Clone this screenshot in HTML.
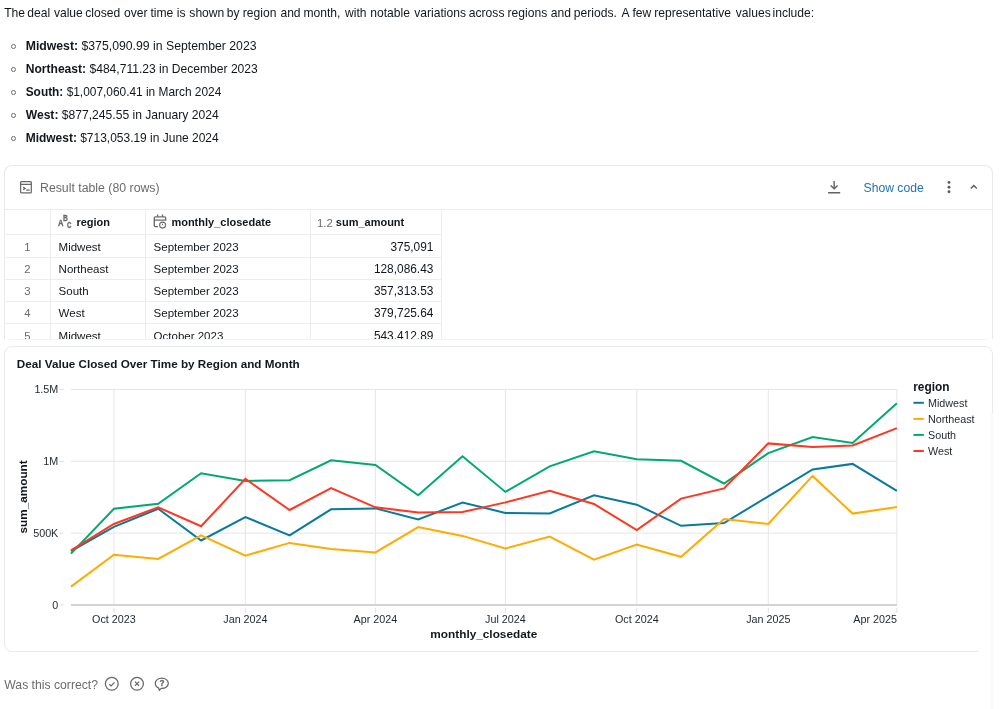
<!DOCTYPE html>
<html><head><meta charset="utf-8">
<style>
*{box-sizing:border-box;margin:0;padding:0}
html,body{width:1000px;height:709px;overflow:hidden;background:#fff}
body{font-family:"Liberation Sans",Arial,sans-serif;color:#11171c;position:relative}
.abs{position:absolute;white-space:nowrap}
.p1{left:4.3px;top:3px;font-size:12.1px;line-height:20px}
.li{position:absolute;left:25.7px;font-size:12.2px;line-height:20px;white-space:nowrap}
.bul{position:absolute;left:11px;width:4.7px;height:4.7px;border:1px solid #6a6a6a;border-radius:50%}
.tcard{position:absolute;left:4px;top:165px;width:989px;height:174px;border:1px solid #e6e9ee;border-bottom:none;border-radius:8px 8px 0 0;overflow:hidden;background:#fff}
.ccard{position:absolute;left:4px;top:346px;width:989px;height:306px;border:1px solid #e6e9ee;border-radius:8px;background:#fff}
.hl{position:absolute;height:1px;background:#ededee}
.vl{position:absolute;width:1px;background:#ededee}
.tt{position:absolute;font-size:11.5px;line-height:14px;white-space:nowrap;color:#11171c}
.th{position:absolute;font-size:11px;line-height:13px;font-weight:700;white-space:nowrap;color:#11171c}
.idx{position:absolute;font-size:11.3px;line-height:14px;color:#6b6b6b;width:46px;text-align:center}
.num{position:absolute;font-size:11.9px;line-height:14px;white-space:nowrap;text-align:right;width:120px}
</style></head><body><div style="position:absolute;left:0;top:0;width:1000px;height:709px;will-change:transform">
<div class="abs p1" style="left:0;width:1000px;height:20px"><span style="position:absolute;left:4.16px;top:0">The </span><span style="position:absolute;left:27.22px;top:0">deal </span><span style="position:absolute;left:53.90px;top:0">value </span><span style="position:absolute;left:85.32px;top:0">closed </span><span style="position:absolute;left:123.92px;top:0">over </span><span style="position:absolute;left:150.48px;top:0">time </span><span style="position:absolute;left:176.87px;top:0">is </span><span style="position:absolute;left:189.34px;top:0">shown </span><span style="position:absolute;left:226.77px;top:0">by </span><span style="position:absolute;left:242.77px;top:0">region </span><span style="position:absolute;left:280.42px;top:0">and </span><span style="position:absolute;left:303.47px;top:0">month, </span><span style="position:absolute;left:345.10px;top:0">with </span><span style="position:absolute;left:370.27px;top:0">notable </span><span style="position:absolute;left:414.30px;top:0">variations </span><span style="position:absolute;left:468.82px;top:0">across </span><span style="position:absolute;left:507.57px;top:0">regions </span><span style="position:absolute;left:550.72px;top:0">and </span><span style="position:absolute;left:573.87px;top:0">periods. </span><span style="position:absolute;left:621.50px;top:0">A </span><span style="position:absolute;left:632.38px;top:0">few </span><span style="position:absolute;left:654.27px;top:0">representative </span><span style="position:absolute;left:735.80px;top:0">values </span><span style="position:absolute;left:772.47px;top:0">include: </span></div>
<div class="bul" style="top:44.10px"></div>
<div class="li" style="top:36.00px;font-size:12.25px"><b>Midwest:</b> $375,090.99 in September 2023</div>
<div class="bul" style="top:67.15px"></div>
<div class="li" style="top:59.05px;font-size:12.08px"><b>Northeast:</b> $484,711.23 in December 2023</div>
<div class="bul" style="top:90.20px"></div>
<div class="li" style="top:82.10px;font-size:11.9px"><b>South:</b> $1,007,060.41 in March 2024</div>
<div class="bul" style="top:113.25px"></div>
<div class="li" style="top:105.15px;font-size:12.12px"><b>West:</b> $877,245.55 in January 2024</div>
<div class="bul" style="top:136.30px"></div>
<div class="li" style="top:128.20px;font-size:11.97px"><b>Midwest:</b> $713,053.19 in June 2024</div>
<div class="tcard">
<svg class="abs" style="left:15px;top:15px" width="13" height="13" viewBox="0 0 13 13" fill="none" stroke="#686868" stroke-width="1.25">
<rect x="0.6" y="0.6" width="10.7" height="11.2" rx="0.9"/>
<line x1="0.6" y1="3.35" x2="11.3" y2="3.35"/>
<polyline points="3.2,6.1 5.1,7.4 3.2,8.7" stroke-width="1.3"/>
<line x1="6.1" y1="9.2" x2="9.7" y2="9.2" stroke-width="1.3"/>
</svg>
<div class="abs" style="left:35px;top:15.0px;font-size:12.3px;line-height:14px;color:#6b6b6b">Result table (80 rows)</div>
<svg class="abs" style="left:822px;top:14px" width="15" height="15" viewBox="0 0 15 15" fill="none" stroke="#626262" stroke-width="1.4">
<line x1="7.15" y1="0.9" x2="7.15" y2="8.4"/>
<polyline points="3.7,5.4 7.15,8.8 10.6,5.4"/>
<line x1="1.1" y1="12.7" x2="13.2" y2="12.7"/>
</svg>
<div class="abs" style="left:858.6px;top:15.0px;font-size:12.15px;line-height:14px;color:#2272b4">Show code</div>
<svg class="abs" style="left:941px;top:14px" width="7" height="15" viewBox="0 0 7 15">
<circle cx="3.0" cy="2.4" r="1.45" fill="#5a5a5a"/><circle cx="3.0" cy="7.2" r="1.45" fill="#5a5a5a"/><circle cx="3.0" cy="11.8" r="1.45" fill="#5a5a5a"/>
</svg>
<svg class="abs" style="left:963px;top:16px" width="12" height="10" viewBox="0 0 12 10">
<polyline points="2.8,6.6 5.8,3.5 8.8,6.6" fill="none" stroke="#5a5a5a" stroke-width="1.4"/>
</svg>
<div class="hl" style="left:0;top:43px;width:988px;background:#e9ebf0"></div>
<div class="hl" style="left:0;top:68px;width:436px"></div>
<div class="hl" style="left:0;top:91px;width:436px"></div>
<div class="hl" style="left:0;top:113px;width:436px"></div>
<div class="hl" style="left:0;top:135px;width:436px"></div>
<div class="hl" style="left:0;top:157px;width:436px"></div>
<div class="vl" style="left:45.0px;top:43px;height:200px"></div>
<div class="vl" style="left:140.0px;top:43px;height:200px"></div>
<div class="vl" style="left:305.0px;top:43px;height:200px"></div>
<div class="vl" style="left:435.8px;top:43px;height:200px"></div>
<svg class="abs" style="left:52px;top:48px" width="16" height="15" viewBox="0 0 16 15" font-family='"Liberation Sans",Arial,sans-serif' font-size="8.4" font-weight="700" fill="#686868" stroke="#686868" stroke-width="0.3">
<text transform="translate(1.1 11.8) scale(0.9 1)">A</text>
<text transform="translate(6.0 7.4) scale(0.8 1)">B</text>
<text transform="translate(9.9 13.7) scale(0.74 1)">C</text>
</svg>
<div class="th" style="left:71.4px;top:49.5px">region</div>
<svg class="abs" style="left:148.0px;top:48px" width="15" height="15" viewBox="0 0 15 15" fill="none" stroke="#6b6b6b" stroke-width="1.35">
<path d="M5 12.6H2.5a1.2 1.2 0 0 1-1.2-1.2V4a1.2 1.2 0 0 1 1.2-1.2h9a1.2 1.2 0 0 1 1.2 1.2V6.1H1.3"/>
<line x1="4.6" y1="0.4" x2="4.6" y2="2.8"/>
<line x1="9.5" y1="0.4" x2="9.5" y2="2.8"/>
<circle cx="9.6" cy="11.1" r="3.0" stroke-width="1.1"/>
<polyline points="9.4,9.7 9.6,11.2" stroke-width="1"/>
</svg>
<div class="th" style="left:166.4px;top:49.5px">monthly_closedate</div>
<div class="abs" style="left:312.0px;top:49.5px;font-size:11.3px;line-height:14px;color:#6b6b6b">1.2</div>
<div class="th" style="left:330.8px;top:49.5px">sum_amount</div>
<div class="idx" style="left:-0.5px;top:73.5px">1</div><div class="tt" style="left:53.6px;top:73.5px">Midwest</div><div class="tt" style="left:148.6px;top:73.5px">September 2023</div><div class="num" style="left:308.4px;top:73.5px">375,091</div>
<div class="idx" style="left:-0.5px;top:95.8px">2</div><div class="tt" style="left:53.6px;top:95.8px">Northeast</div><div class="tt" style="left:148.6px;top:95.8px">September 2023</div><div class="num" style="left:308.4px;top:95.8px">128,086.43</div>
<div class="idx" style="left:-0.5px;top:118.0px">3</div><div class="tt" style="left:53.6px;top:118.0px">South</div><div class="tt" style="left:148.6px;top:118.0px">September 2023</div><div class="num" style="left:308.4px;top:118.0px">357,313.53</div>
<div class="idx" style="left:-0.5px;top:140.2px">4</div><div class="tt" style="left:53.6px;top:140.2px">West</div><div class="tt" style="left:148.6px;top:140.2px">September 2023</div><div class="num" style="left:308.4px;top:140.2px">379,725.64</div>
<div class="idx" style="left:-0.5px;top:162.5px">5</div><div class="tt" style="left:53.6px;top:162.5px">Midwest</div><div class="tt" style="left:148.6px;top:162.5px">October 2023</div><div class="num" style="left:308.4px;top:162.5px">543,412.89</div>
<div class="idx" style="left:-0.5px;top:184.8px">6</div><div class="tt" style="left:53.6px;top:184.8px">Northeast</div><div class="tt" style="left:148.6px;top:184.8px">October 2023</div><div class="num" style="left:308.4px;top:184.8px">350,112.08</div>
</div>
<div class="abs" style="left:9px;top:339px;width:979px;height:1px;background:#f2f3f6"></div>
<div class="ccard"></div>
<svg class="abs" style="left:0;top:0" width="1000" height="709" viewBox="0 0 1000 709" font-family='"Liberation Sans",Arial,sans-serif'>
<text x="16.8" y="368" font-size="11.7" font-weight="700" fill="#11171c">Deal Value Closed Over Time by Region and Month</text>
<line x1="113.90" y1="389.4" x2="113.90" y2="605.0" stroke="#e6e6e6" stroke-width="1"/>
<line x1="113.90" y1="608" x2="113.90" y2="613" stroke="#e0e0e0" stroke-width="1"/>
<line x1="245.35" y1="389.4" x2="245.35" y2="605.0" stroke="#e6e6e6" stroke-width="1"/>
<line x1="245.35" y1="608" x2="245.35" y2="613" stroke="#e0e0e0" stroke-width="1"/>
<line x1="375.37" y1="389.4" x2="375.37" y2="605.0" stroke="#e6e6e6" stroke-width="1"/>
<line x1="375.37" y1="608" x2="375.37" y2="613" stroke="#e0e0e0" stroke-width="1"/>
<line x1="505.40" y1="389.4" x2="505.40" y2="605.0" stroke="#e6e6e6" stroke-width="1"/>
<line x1="505.40" y1="608" x2="505.40" y2="613" stroke="#e0e0e0" stroke-width="1"/>
<line x1="636.84" y1="389.4" x2="636.84" y2="605.0" stroke="#e6e6e6" stroke-width="1"/>
<line x1="636.84" y1="608" x2="636.84" y2="613" stroke="#e0e0e0" stroke-width="1"/>
<line x1="768.29" y1="389.4" x2="768.29" y2="605.0" stroke="#e6e6e6" stroke-width="1"/>
<line x1="768.29" y1="608" x2="768.29" y2="613" stroke="#e0e0e0" stroke-width="1"/>
<line x1="896.89" y1="389.4" x2="896.89" y2="605.0" stroke="#e6e6e6" stroke-width="1"/>
<line x1="896.89" y1="608" x2="896.89" y2="613" stroke="#e0e0e0" stroke-width="1"/>
<line x1="71.04" y1="389.40" x2="897" y2="389.40" stroke="#e6e6e6" stroke-width="1"/>
<line x1="71.04" y1="461.27" x2="897" y2="461.27" stroke="#e6e6e6" stroke-width="1"/>
<line x1="71.04" y1="533.13" x2="897" y2="533.13" stroke="#e6e6e6" stroke-width="1"/>
<line x1="59.6" y1="389.4" x2="63.6" y2="389.4" stroke="#d9d9d9" stroke-width="1"/>
<text x="58.3" y="393.1" font-size="10.75" text-anchor="end" fill="#1f272d">1.5M</text>
<line x1="59.6" y1="461.3" x2="63.6" y2="461.3" stroke="#d9d9d9" stroke-width="1"/>
<text x="58.3" y="465.0" font-size="10.75" text-anchor="end" fill="#1f272d">1M</text>
<line x1="59.6" y1="533.1" x2="63.6" y2="533.1" stroke="#d9d9d9" stroke-width="1"/>
<text x="58.3" y="536.8" font-size="10.75" text-anchor="end" fill="#1f272d">500K</text>
<line x1="59.6" y1="605.0" x2="63.6" y2="605.0" stroke="#d9d9d9" stroke-width="1"/>
<text x="58.3" y="608.7" font-size="10.75" text-anchor="end" fill="#1f272d">0</text>
<line x1="71.04" y1="605" x2="897" y2="605" stroke="#d3d3d3" stroke-width="2"/>
<text x="113.9" y="622.9" font-size="10.75" text-anchor="middle" fill="#1f272d">Oct 2023</text>
<text x="245.4" y="622.9" font-size="10.75" text-anchor="middle" fill="#1f272d">Jan 2024</text>
<text x="375.4" y="622.9" font-size="10.75" text-anchor="middle" fill="#1f272d">Apr 2024</text>
<text x="505.4" y="622.9" font-size="10.75" text-anchor="middle" fill="#1f272d">Jul 2024</text>
<text x="636.8" y="622.9" font-size="10.75" text-anchor="middle" fill="#1f272d">Oct 2024</text>
<text x="768.3" y="622.9" font-size="10.75" text-anchor="middle" fill="#1f272d">Jan 2025</text>
<text x="897" y="622.9" font-size="10.75" text-anchor="end" fill="#1f272d">Apr 2025</text>
<text x="483.8" y="637.6" font-size="11.8" font-weight="700" text-anchor="middle" fill="#11171c">monthly_closedate</text>
<text transform="translate(27.2 496.9) rotate(-90)" font-size="11.75" font-weight="700" text-anchor="middle" fill="#11171c">sum_amount</text>
<polyline points="71.0,551.1 113.9,526.9 158.2,508.8 201.1,540.5 245.4,517.0 289.6,535.4 331.1,509.3 375.4,508.4 418.2,519.5 462.5,502.5 505.4,512.9 549.7,513.4 594.0,495.3 636.8,504.7 681.1,525.8 724.0,523.1 768.3,496.3 812.6,469.5 852.6,463.9 896.9,490.9" fill="none" stroke="#077a9d" stroke-width="2" stroke-linejoin="miter" stroke-linecap="butt"/>
<polyline points="71.0,586.6 113.9,554.7 158.2,559.0 201.1,535.3 245.4,555.6 289.6,542.9 331.1,548.9 375.4,552.4 418.2,527.1 462.5,535.9 505.4,548.4 549.7,536.6 594.0,559.6 636.8,544.6 681.1,556.8 724.0,519.0 768.3,523.9 812.6,475.9 852.6,513.6 896.9,507.1" fill="none" stroke="#ffab00" stroke-width="2" stroke-linejoin="miter" stroke-linecap="butt"/>
<polyline points="71.0,553.6 113.9,508.8 158.2,503.7 201.1,473.2 245.4,481.0 289.6,480.2 331.1,460.3 375.4,464.9 418.2,495.3 462.5,456.2 505.4,491.9 549.7,466.4 594.0,451.2 636.8,459.3 681.1,460.8 724.0,483.5 768.3,453.1 812.6,437.1 852.6,442.9 896.9,403.3" fill="none" stroke="#00a972" stroke-width="2" stroke-linejoin="miter" stroke-linecap="butt"/>
<polyline points="71.0,550.4 113.9,524.0 158.2,507.3 201.1,526.2 245.4,478.9 289.6,510.0 331.1,488.1 375.4,507.3 418.2,512.4 462.5,512.1 505.4,502.4 549.7,490.7 594.0,504.0 636.8,530.1 681.1,498.6 724.0,488.4 768.3,443.4 812.6,447.0 852.6,445.5 896.9,428.1" fill="none" stroke="#ff3621" stroke-width="2" stroke-linejoin="miter" stroke-linecap="butt"/>
<text x="913.2" y="390.7" font-size="11.9" font-weight="700" fill="#11171c">region</text>
<line x1="913.4" y1="402.8" x2="923.8" y2="402.8" stroke="#077a9d" stroke-width="2"/>
<text x="928.0" y="406.6" font-size="10.75" fill="#1f272d">Midwest</text>
<line x1="913.4" y1="418.9" x2="923.8" y2="418.9" stroke="#ffab00" stroke-width="2"/>
<text x="928.0" y="422.7" font-size="10.75" fill="#1f272d">Northeast</text>
<line x1="913.4" y1="434.9" x2="923.8" y2="434.9" stroke="#00a972" stroke-width="2"/>
<text x="928.0" y="438.7" font-size="10.75" fill="#1f272d">South</text>
<line x1="913.4" y1="451.0" x2="923.8" y2="451.0" stroke="#ff3621" stroke-width="2"/>
<text x="928.0" y="454.8" font-size="10.75" fill="#1f272d">West</text>
</svg>
<div class="abs" style="left:4.3px;top:677.6px;font-size:12.2px;line-height:14px;color:#6b6b6b">Was this correct?</div>
<svg class="abs" style="left:0;top:670px" width="200" height="30" viewBox="0 670 200 30" fill="none" stroke="#666" stroke-width="1.25">
<circle cx="111.8" cy="683.8" r="6.4"/>
<polyline points="109.2,684.2 111.1,685.9 114.5,682.4" stroke-width="1.2"/>
<circle cx="137" cy="683.8" r="6.4"/>
<line x1="134.9" y1="681.7" x2="139.1" y2="685.9" stroke-width="1.2"/>
<line x1="139.1" y1="681.7" x2="134.9" y2="685.9" stroke-width="1.2"/>
<path d="M158.8 688.1C156.6 687.3 155.3 685.6 155.3 683.3C155.3 680.3 158.2 678.2 161.8 678.2C165.4 678.2 168.3 680.3 168.3 683.3C168.3 686.3 165.4 688.4 161.8 688.4L161.2 688.4L159.3 690.4Z" stroke-linejoin="round"/>
<text x="161.9" y="685.7" font-family="Liberation Sans,Arial,sans-serif" font-size="8.2" font-weight="700" text-anchor="middle" fill="#666" stroke="#666" stroke-width="0.3">?</text>
</svg>
<div class="abs" style="left:977.5px;top:413px;width:22.5px;height:296px;background:#fff"></div>
<div class="abs" style="left:991px;top:413px;width:2px;height:296px;background:#fafafb"></div>
</div></body></html>
